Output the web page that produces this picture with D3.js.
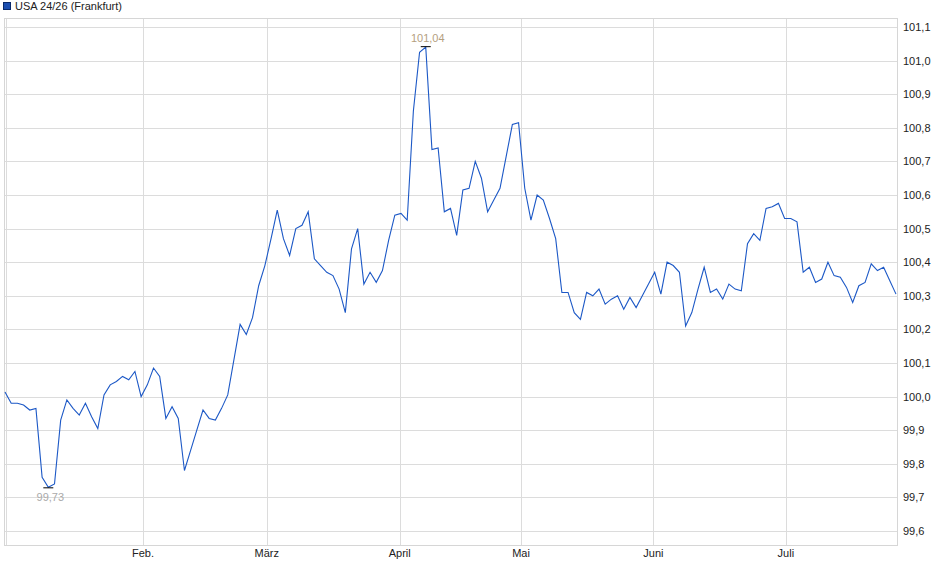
<!DOCTYPE html>
<html><head><meta charset="utf-8">
<script src="https://cdn.jsdelivr.net/npm/d3@7"></script>
<style>body{margin:0;background:#fff}svg{font-family:"Liberation Sans",Arial,sans-serif}</style>
</head><body><svg id="c" width="940" height="579"></svg>
<script>
const title = "USA 24/26 (Frankfurt)";
const values = [
100.014,99.98,99.98,99.975,99.96,99.965,99.76,99.73,99.74,99.93,99.99,99.965,99.945,99.98,99.94,99.905,100.005,100.035,100.045,100.06,100.05,100.075,
100.0,100.035,100.085,100.06,99.935,99.97,99.935,99.78,99.84,99.9,99.96,99.935,99.93,99.965,100.005,100.11,100.215,100.185,100.235,100.33,100.39,
100.47,100.555,100.47,100.42,100.5,100.51,100.55,100.41,100.39,100.37,100.36,100.32,100.25,100.44,100.5,100.335,100.37,100.34,100.375,100.465,100.54,100.545,100.525,
100.85,101.025,101.04,100.735,100.74,100.55,100.56,100.48,100.615,100.62,100.7,100.65,100.55,100.585,100.62,100.715,100.81,100.815,100.62,100.525,
100.6,100.585,100.53,100.47,100.31,100.31,100.25,100.23,100.31,100.3,100.32,100.275,100.29,100.3,100.26,100.295,100.265,100.3,100.335,100.37,
100.305,100.4,100.39,100.37,100.21,100.25,100.32,100.385,100.31,100.32,100.29,100.335,100.32,100.315,100.455,100.485,100.465,100.56,100.565,100.575,100.53,
100.53,100.52,100.37,100.385,100.34,100.35,100.4,100.36,100.355,100.325,100.28,100.33,100.34,100.395,100.375,100.385,100.345,100.305
];
const monthLabels = ["Feb.","März","April","Mai","Juni","Juli"];
const monthIdx = [22.3,42.3,63.8,83.4,104.8,126.2];
const yTicks = [99.6,99.7,99.8,99.9,100.0,100.1,100.2,100.3,100.4,100.5,100.6,100.7,100.8,100.9,101.0,101.1];

const svg = d3.select("#c");
const L=4,R=898,T=18,B=545;
const x = d3.scaleLinear().domain([0,values.length-1]).range([5,896]);
const y = d3.scaleLinear().domain([99.6,101.1]).range([531,27]);
const fmt = v => d3.format(".1f")(v).replace(".",",");
const g = svg.append("g");
g.selectAll(".hg").data(yTicks).join("line").attr("x1",L).attr("x2",R)
 .attr("y1",d=>Math.round(y(d))+0.5).attr("y2",d=>Math.round(y(d))+0.5).attr("stroke","#dcdcdc");
g.selectAll(".vg").data(monthIdx).join("line").attr("y1",T).attr("y2",B)
 .attr("x1",d=>Math.round(x(d))+0.5).attr("x2",d=>Math.round(x(d))+0.5).attr("stroke","#dcdcdc");
g.append("line").attr("x1",6.5).attr("x2",6.5).attr("y1",T).attr("y2",B).attr("stroke","#dcdcdc");
g.append("rect").attr("x",L+0.5).attr("y",T+0.5).attr("width",R-L-1).attr("height",B-T).attr("fill","none").attr("stroke","#d6d6d6");
g.selectAll(".yl").data(yTicks).join("text").attr("x",R+5).attr("y",d=>y(d)+4)
 .attr("font-size",11).attr("fill","#222").text(fmt);
g.selectAll(".xl").data(monthIdx).join("text").attr("x",d=>x(d)).attr("y",557).attr("text-anchor","middle")
 .attr("font-size",11).attr("fill","#222").text((d,i)=>monthLabels[i]);
svg.append("path").datum(values).attr("fill","none").attr("stroke","#1c58c6").attr("stroke-width",1.1)
 .attr("d",d3.line().x((d,i)=>x(i)).y(d=>y(d)));
const iMin = d3.minIndex(values), iMax = d3.maxIndex(values);
svg.append("line").attr("x1",x(iMin)-5).attr("x2",x(iMin)+5).attr("y1",y(values[iMin])+0.5).attr("y2",y(values[iMin])+0.5).attr("stroke","#000");
svg.append("text").attr("x",x(iMin)+2).attr("y",y(values[iMin])+14).attr("text-anchor","middle").attr("font-size",11).attr("fill","#aaa").text(d3.format(".2f")(values[iMin]).replace(".",","));
svg.append("line").attr("x1",x(iMax)-5).attr("x2",x(iMax)+5).attr("y1",y(values[iMax])-0.5).attr("y2",y(values[iMax])-0.5).attr("stroke","#000");
svg.append("text").attr("x",x(iMax)+2).attr("y",y(values[iMax])-5).attr("text-anchor","middle").attr("font-size",11).attr("fill","#b4a080").text(d3.format(".2f")(values[iMax]).replace(".",","));
svg.append("rect").attr("x",3.5).attr("y",2.5).attr("width",7).attr("height",7).attr("fill","#1c4fb0").attr("stroke","#0a2a6a");
svg.append("text").attr("x",15).attr("y",10).attr("font-size",11).attr("fill","#222").text(title);
</script></body></html>
